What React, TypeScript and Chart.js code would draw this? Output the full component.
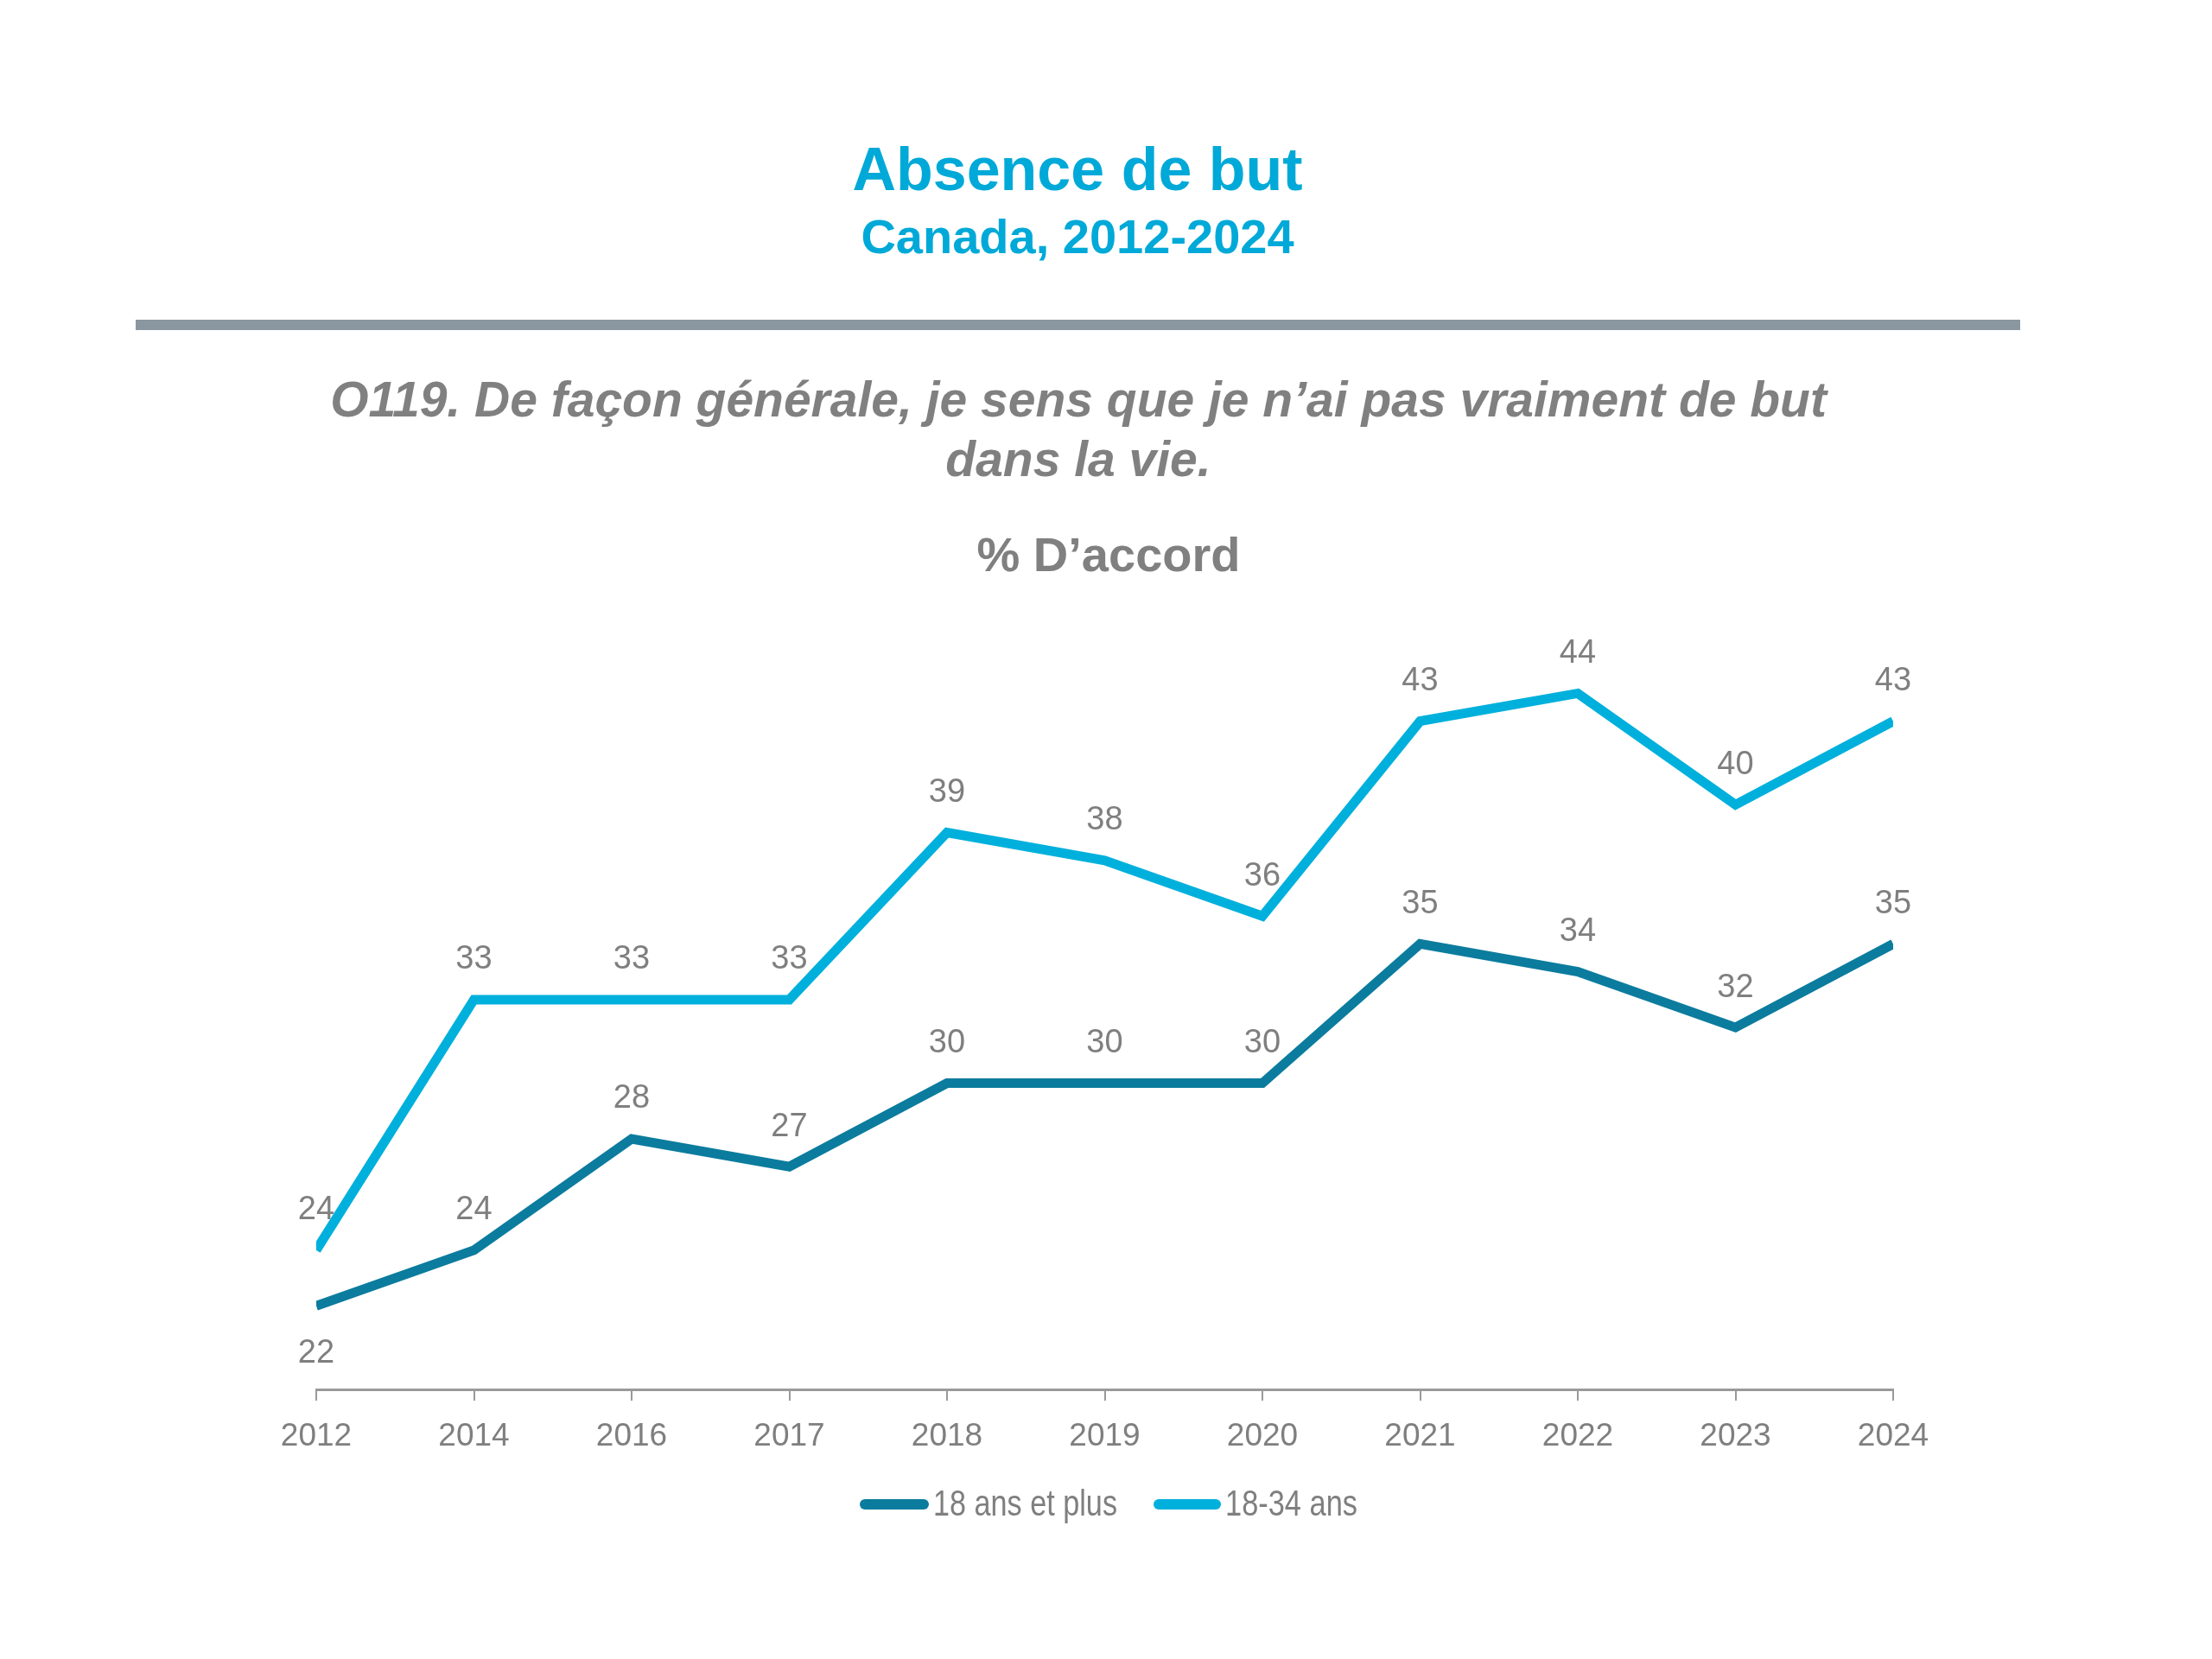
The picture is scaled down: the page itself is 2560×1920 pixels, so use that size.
import React, { useEffect, useRef } from "react";
import { Chart, registerables } from "chart.js";

Chart.register(...registerables);

// ---- Data ----
const years = ["2012", "2014", "2016", "2017", "2018", "2019", "2020", "2021", "2022", "2023", "2024"];
const all18Plus = [22, 24, 28, 27, 30, 30, 30, 35, 34, 32, 35];
const age18to34 = [24, 33, 33, 33, 39, 38, 36, 43, 44, 40, 43];
const seriesNames = ["18 ans et plus", "18-34 ans"];
const all18PlusLabelPos = ["below", "above", "above", "above", "above", "above", "above", "above", "above", "above", "above"];
const age18to34LabelPos = ["above", "above", "above", "above", "above", "above", "above", "above", "above", "above", "above"];

const DARK = "#0b7c9e";
const LIGHT = "#00b0dc";
const CYAN_TEXT = "#00a9d8";
const GRAY_TEXT = "#808080";
const SANS = '"Liberation Sans", Arial, Helvetica, sans-serif';
const NARROW = '"Liberation Sans Narrow", "Arial Narrow", "Liberation Sans", Arial, sans-serif';

const dataLabelPlugin = {
  id: "dataLabels",
  afterDatasetsDraw(chart: any) {
    const ctx = chart.ctx;
    ctx.save();
    ctx.font = `38px ${SANS}`;
    ctx.fillStyle = "#7f7f7f";
    ctx.textAlign = "center";
    ctx.textBaseline = "middle";
    chart.data.datasets.forEach((ds: any, di: number) => {
      const meta = chart.getDatasetMeta(di);
      meta.data.forEach((pt: any, i: number) => {
        const below = ds.labelPos && ds.labelPos[i] === "below";
        ctx.fillText(String(ds.data[i]), pt.x, below ? pt.y + 55 : pt.y - 46);
      });
    });
    ctx.restore();
  },
};

const legendPlugin = {
  id: "customLegend",
  afterDraw(chart: any) {
    const ctx = chart.ctx;
    const y = 1741;
    const items = [
      { x0: 995, x1: 1075, tx: 1080, w: 213 },
      { x0: 1335, x1: 1413, tx: 1418, w: 153 },
    ];
    ctx.save();
    chart.data.datasets.forEach((ds: any, i: number) => {
      const it = items[i];
      ctx.strokeStyle = ds.borderColor;
      ctx.lineWidth = 12;
      ctx.lineCap = "round";
      ctx.beginPath();
      ctx.moveTo(it.x0 + 6, y);
      ctx.lineTo(it.x1 - 6, y);
      ctx.stroke();
      ctx.font = `42px ${NARROW}`;
      ctx.fillStyle = "#7f7f7f";
      ctx.textAlign = "left";
      ctx.textBaseline = "middle";
      const natural = ctx.measureText(ds.label).width;
      const sx = natural > it.w * 1.05 ? it.w / natural : 1;
      ctx.save();
      ctx.translate(it.tx, y + 1);
      ctx.scale(sx, 1);
      ctx.fillText(ds.label, 0, 0);
      ctx.restore();
    });
    ctx.restore();
  },
};

function LineChart() {
  const ref = useRef<HTMLCanvasElement | null>(null);
  useEffect(() => {
    if (!ref.current) return;
    const chart = new Chart(ref.current, {
      type: "line",
      data: {
        labels: years,
        datasets: [
          {
            label: seriesNames[0],
            data: all18Plus,
            borderColor: DARK,
            backgroundColor: DARK,
            borderWidth: 11,
            pointRadius: 0,
            tension: 0,
            clip: 0,
            labelPos: all18PlusLabelPos,
          } as any,
          {
            label: seriesNames[1],
            data: age18to34,
            borderColor: LIGHT,
            backgroundColor: LIGHT,
            borderWidth: 11,
            pointRadius: 0,
            tension: 0,
            clip: 0,
            labelPos: age18to34LabelPos,
          } as any,
        ],
      },
      options: {
        responsive: false,
        animation: false,
        devicePixelRatio: 1,
        layout: { padding: { left: 366, right: 369, top: 738, bottom: 192 } },
        plugins: {
          legend: { display: false },
          title: { display: false },
          tooltip: { enabled: false },
        },
        scales: {
          x: {
            type: "category",
            offset: false,
            afterFit: (scale: any) => {
              scale.height = 120;
            },
            grid: {
              display: true,
              drawOnChartArea: false,
              drawTicks: true,
              tickLength: 13,
              color: "#9a9a9a",
              lineWidth: 2,
            },
            border: { display: true, color: "#9a9a9a", width: 3 },
            ticks: {
              color: "#7f7f7f",
              font: { family: NARROW, size: 37 },
              padding: 20,
              maxRotation: 0,
              autoSkip: false,
            },
          },
          y: {
            display: false,
            min: 19,
            max: 46,
          },
        },
      } as any,
      plugins: [dataLabelPlugin, legendPlugin],
    });
    return () => chart.destroy();
  }, []);
  return (
    <canvas
      ref={ref}
      width={2560}
      height={1920}
      style={{ position: "absolute", left: 0, top: 0, width: 2560, height: 1920 }}
    />
  );
}

const centered = (center: number, top: number, extra: React.CSSProperties): React.CSSProperties => ({
  position: "absolute",
  left: center - 1200,
  width: 2400,
  top,
  textAlign: "center",
  fontFamily: SANS,
  whiteSpace: "nowrap",
  ...extra,
});

export default function App() {
  return (
    <div
      style={{
        position: "absolute",
        left: 0,
        top: 0,
        width: 2560,
        height: 1920,
        background: "#ffffff",
        overflow: "hidden",
      }}
    >
      <div style={centered(1247, 160.7, { fontSize: 70, lineHeight: "70px", fontWeight: 700, color: CYAN_TEXT })}>
        Absence de but
      </div>
      <div style={centered(1247, 245.6, { fontSize: 56, lineHeight: "56px", fontWeight: 700, color: CYAN_TEXT })}>
        Canada, 2012-2024
      </div>
      <div
        style={{
          position: "absolute",
          left: 157,
          top: 370,
          width: 2181,
          height: 12,
          background: "#8a96a0",
        }}
      />
      <div
        style={centered(1248, 427.8, {
          fontSize: 57,
          lineHeight: "69px",
          fontWeight: 700,
          fontStyle: "italic",
          color: GRAY_TEXT,
        })}
      >
        O119. De façon générale, je sens que je n’ai pas vraiment de but
        <br />
        dans la vie.
      </div>
      <div style={centered(1283, 613.6, { fontSize: 56, lineHeight: "56px", fontWeight: 700, color: GRAY_TEXT })}>
        % D’accord
      </div>
      <LineChart />
    </div>
  );
}
